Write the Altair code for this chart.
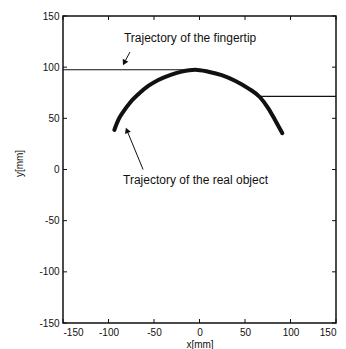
import altair as alt
import pandas as pd

# Thick curve: path followed by the real object (mm)
object_x = [-93.6, -89.2, -83.7, -76.4, -67.3, -56.3, -45.3, -32.4, -19.6, -4.9,
            9.7, 24.4, 39.0, 53.6, 66.5, 75.6, 83.0, 91.0]
object_y = [38.6, 48.4, 56.5, 65.3, 73.5, 81.6, 87.5, 92.3, 95.6, 97.5,
            95.6, 92.3, 86.8, 79.3, 70.6, 59.8, 48.4, 35.4]

# Thin curve: path followed by the fingertip (mm)
finger_x = [-150.0, -4.9, 9.7, 24.4, 39.0, 53.6, 66.5, 150.0]
finger_y = [97.5, 97.5, 95.6, 92.3, 86.8, 79.3, 71.5, 71.5]

tick_values = [-150, -100, -50, 0, 50, 100, 150]

# Annotations
label_text = ["Trajectory of the fingertip", "Trajectory of the real object"]
label_x = [-83.0, -84.0]
label_y = [128.5, -10.3]

arrow_x = [-76.4, -62.0]
arrow_y = [114.8, 0.0]
head_x = [-82.7, -79.8]
head_y = [104.3, 38.3]
head_angle = [208, 338]

FONT = "Liberation Sans"
INK = "#111111"
W, H = 273, 307
TICK = 4

obj = pd.DataFrame({"i": range(len(object_x)), "x": object_x, "y": object_y})
fing = pd.DataFrame({"i": range(len(finger_x)), "x": finger_x, "y": finger_y})
labels = pd.DataFrame({"text": label_text, "x": label_x, "y": label_y})
arrows = pd.DataFrame({"x": arrow_x, "y": arrow_y, "x2": head_x, "y2": head_y,
                       "angle": head_angle})
ticks = pd.DataFrame({"v": tick_values})

xs = alt.Scale(domain=[-150, 150], nice=False, zero=False)
ys = alt.Scale(domain=[-150, 150], nice=False, zero=False)


def label_axis(orient, title, **kw):
    return alt.Axis(orient=orient, values=tick_values, ticks=False, domain=False,
                    grid=False, labelFont=FONT, labelFontSize=10, labelColor=INK,
                    labelExpr="toString(datum.value)",
                    title=title, titleFont=FONT, titleFontSize=10,
                    titleFontWeight="normal", titleColor=INK, **kw)


finger_line = alt.Chart(fing).mark_line(color=INK, strokeWidth=1.1).encode(
    x=alt.X("x:Q", scale=xs, axis=label_axis("bottom", "x[mm]", labelPadding=4,
                                             titlePadding=2)),
    y=alt.Y("y:Q", scale=ys, axis=label_axis("left", "y[mm]", labelPadding=4,
                                             titlePadding=14, titleY=147)),
    order="i:Q",
)

object_line = alt.Chart(obj).mark_line(
    color=INK, strokeWidth=4, strokeCap="round", interpolate="monotone"
).encode(
    x=alt.X("x:Q", scale=xs),
    y=alt.Y("y:Q", scale=ys),
    order="i:Q",
)

# inward tick marks on all four sides of the frame
tick_base = alt.Chart(ticks).mark_rule(color=INK, strokeWidth=1)
ticks_bottom = tick_base.encode(x=alt.X("v:Q", scale=xs), y=alt.value(H), y2=alt.value(H - TICK))
ticks_top = tick_base.encode(x=alt.X("v:Q", scale=xs), y=alt.value(0), y2=alt.value(TICK))
ticks_left = tick_base.encode(y=alt.Y("v:Q", scale=ys), x=alt.value(0), x2=alt.value(TICK))
ticks_right = tick_base.encode(y=alt.Y("v:Q", scale=ys), x=alt.value(W), x2=alt.value(W - TICK))

arrow_lines = alt.Chart(arrows).mark_rule(color=INK, strokeWidth=1).encode(
    x=alt.X("x:Q", scale=xs),
    y=alt.Y("y:Q", scale=ys),
    x2="x2:Q",
    y2="y2:Q",
)

arrow_heads = alt.Chart(arrows).mark_point(
    shape="triangle-up", filled=True, color=INK, size=40, opacity=1
).encode(
    x=alt.X("x2:Q", scale=xs),
    y=alt.Y("y2:Q", scale=ys),
    angle=alt.Angle("angle:Q", scale=None),
)

texts = alt.Chart(labels).mark_text(
    align="left", baseline="middle", font=FONT, fontSize=12, color=INK
).encode(
    x=alt.X("x:Q", scale=xs),
    y=alt.Y("y:Q", scale=ys),
    text="text:N",
)

chart = alt.layer(
    finger_line, object_line, ticks_bottom, ticks_top, ticks_left, ticks_right,
    arrow_lines, arrow_heads, texts,
).properties(
    width=W,
    height=H,
    padding={"left": 63, "top": 16, "right": 10, "bottom": 26},
    autosize=alt.AutoSizeParams(type="none"),
    background="white",
).configure_view(stroke=INK, strokeWidth=1.5)

chart.save("out.html", embed_options={"renderer": "svg", "actions": False})
